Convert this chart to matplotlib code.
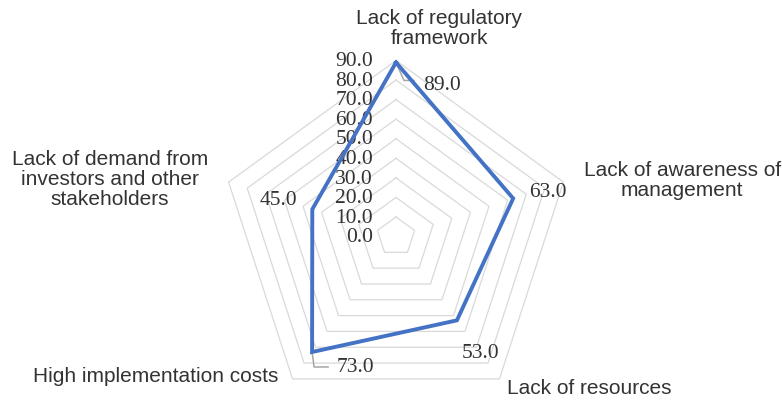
import numpy as np
import matplotlib.pyplot as plt

categories = ["Lack of regulatory\nframework", "Lack of awareness of\nmanagement",
              "Lack of resources", "High implementation costs",
              "Lack of demand from\ninvestors and other\nstakeholders"]
values = [89.0, 63.0, 53.0, 73.0, 45.0]
ticks = [0, 10, 20, 30, 40, 50, 60, 70, 80, 90]

n = len(values)
angles = np.arange(n) * 2 * np.pi / n  # clockwise from top
s = 90 / 176.0  # data units per pixel

def to_xy(r, a):
    return r * np.sin(a), r * np.cos(a)

fig = plt.figure(figsize=(7.82, 4.0), dpi=100)
ax = fig.add_axes([0, 0, 1, 1])
ax.set_xlim(-396 * s, (782 - 396) * s)
ax.set_ylim((236.5 - 400) * s, 236.5 * s)
ax.set_aspect("equal")
ax.axis("off")

# pentagon grid
for t in ticks[1:]:
    gx, gy = to_xy(t, np.append(angles, angles[0]))
    ax.plot(gx, gy, color="#d9d9d9", lw=0.9, zorder=1)

# radial tick labels
for t in ticks:
    ax.text(-23 * s, t - 1.2 * s, f"{t:.1f}", ha="right", va="center",
            family="Liberation Serif", fontsize=15.5, color="#333333", zorder=3)

# data polygon
dx, dy = to_xy(np.array(values + values[:1]), np.append(angles, angles[0]))
ax.plot(dx, dy, color="#4472c4", lw=2.8, zorder=4, solid_joinstyle="miter")

# data labels, offsets in pixels from each point
lbl_off = [(46, -23), (35, 6), (24, -33), (43, -16), (-34, 9)]
for v, a, (ox, oy) in zip(values, angles, lbl_off):
    px, py = to_xy(v, a)
    ax.text(px + ox * s, py + oy * s, f"{v:.1f}", ha="center", va="center",
            family="Liberation Serif", fontsize=15.5, color="#333333", zorder=5)

# leader lines
px, py = to_xy(values[0], angles[0])
ax.plot([px, px + 8 * s, px + 18 * s], [py, py - 18 * s, py - 18 * s],
        color="#a6a6a6", lw=1.1, zorder=3)
px, py = to_xy(values[3], angles[3])
ax.plot([px, px + 2 * s, px + 16 * s], [py, py - 15 * s, py - 15 * s],
        color="#a6a6a6", lw=1.1, zorder=3)

# category labels
cat_pos = [(22.2, 106.3), (146.3, 28.6), (98.7, -77.8), (-60.3, -71.6), (-146.3, 29.1)]
cat_ha = ["center", "center", "center", "right", "center"]
for c, (cx, cy), h in zip(categories, cat_pos, cat_ha):
    ax.text(cx, cy, c, ha=h, va="center", family="Liberation Sans", fontsize=15,
            color="#333333", multialignment="center", linespacing=1.08, zorder=5)

fig.savefig("out.png", dpi=100)
